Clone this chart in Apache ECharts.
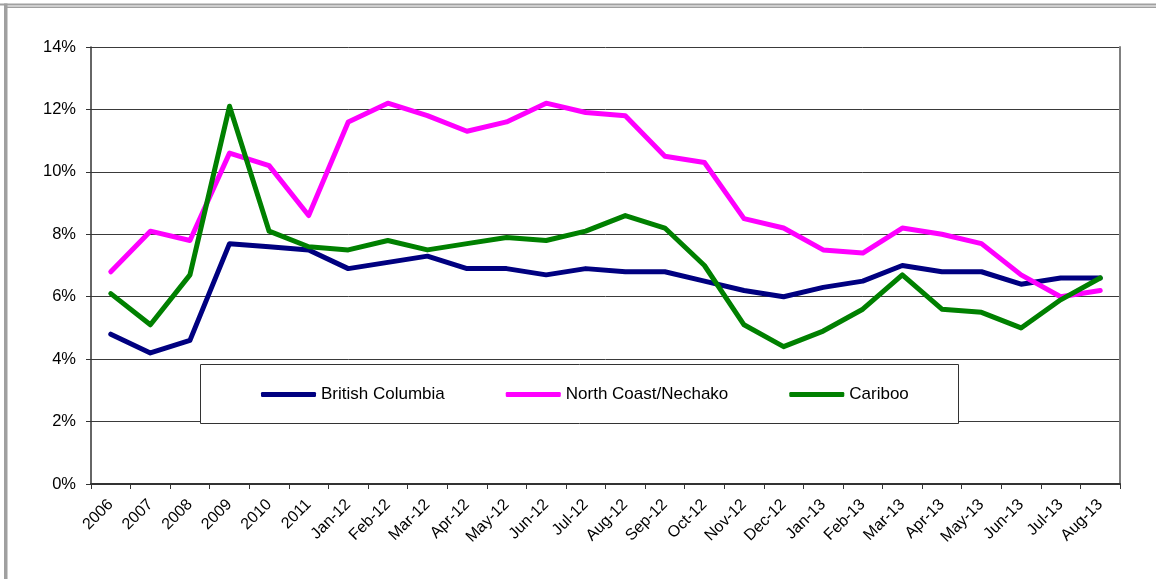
<!DOCTYPE html>
<html>
<head>
<meta charset="utf-8">
<script src="https://cdn.jsdelivr.net/npm/echarts@6/dist/echarts.min.js"></script>
<style>
  html, body { margin: 0; padding: 0; background: #ffffff; }
  #chart { width: 1156px; height: 579px; }
</style>
</head>
<body>
<div id="chart"></div>
<script>
// Unemployment rate (%) by region
const categories = ['2006', '2007', '2008', '2009', '2010', '2011',
  'Jan-12', 'Feb-12', 'Mar-12', 'Apr-12', 'May-12', 'Jun-12', 'Jul-12', 'Aug-12',
  'Sep-12', 'Oct-12', 'Nov-12', 'Dec-12', 'Jan-13', 'Feb-13', 'Mar-13', 'Apr-13',
  'May-13', 'Jun-13', 'Jul-13', 'Aug-13'];

const britishColumbia = [4.8, 4.2, 4.6, 7.7, 7.6, 7.5, 6.9, 7.1, 7.3, 6.9, 6.9, 6.7, 6.9,
  6.8, 6.8, 6.5, 6.2, 6.0, 6.3, 6.5, 7.0, 6.8, 6.8, 6.4, 6.6, 6.6];

const northCoastNechako = [6.8, 8.1, 7.8, 10.6, 10.2, 8.6, 11.6, 12.2, 11.8, 11.3, 11.6, 12.2, 11.9,
  11.8, 10.5, 10.3, 8.5, 8.2, 7.5, 7.4, 8.2, 8.0, 7.7, 6.7, 6.0, 6.2];

const cariboo = [6.1, 5.1, 6.7, 12.1, 8.1, 7.6, 7.5, 7.8, 7.5, 7.7, 7.9, 7.8, 8.1,
  8.6, 8.2, 7.0, 5.1, 4.4, 4.9, 5.6, 6.7, 5.6, 5.5, 5.0, 5.9, 6.6];

const seriesNames = ['British Columbia', 'North Coast/Nechako', 'Cariboo'];
const seriesColors = ['#000080', '#FF00FF', '#008000'];
const seriesData = [britishColumbia, northCoastNechako, cariboo];

const FONT = '"Liberation Sans", Arial, sans-serif';

const chart = echarts.init(document.getElementById('chart'), null, { renderer: 'canvas' });

const option = {
  backgroundColor: '#ffffff',
  animation: false,
  textStyle: { fontFamily: FONT },
  grid: { left: 91, top: 47, right: 36, bottom: 95, containLabel: false },
  xAxis: {
    type: 'category',
    data: categories,
    boundaryGap: true,
    axisLine: { show: true, lineStyle: { color: '#333333', width: 2 } },
    axisTick: { show: true, interval: 0, length: 5, inside: false, lineStyle: { color: '#333333', width: 1 } },
    axisLabel: {
      interval: 0, rotate: 45, margin: 18,
      fontSize: 16, color: '#000000', fontFamily: FONT
    },
    splitLine: { show: false }
  },
  yAxis: [{
    type: 'value',
    min: 0, max: 14, interval: 2,
    axisLine: { show: true, lineStyle: { color: '#333333', width: 1.5 } },
    axisTick: { show: true, length: 5, inside: false, lineStyle: { color: '#333333', width: 1 } },
    axisLabel: { formatter: '{value}%', fontSize: 16.5, color: '#000000', margin: 15, fontFamily: FONT },
    splitLine: { show: true, lineStyle: { color: '#3a3a3a', width: 1 } }
  }, {
    type: 'value',
    position: 'right',
    min: 0, max: 14, interval: 2,
    axisLine: { show: true, lineStyle: { color: '#808080', width: 2 } },
    axisTick: { show: false },
    axisLabel: { show: false },
    splitLine: { show: false }
  }],
  legend: {
    show: true,
    left: 261,
    top: 386,
    padding: 0,
    itemGap: 61,
    itemWidth: 55,
    itemHeight: 5,
    icon: 'roundRect',
    z: 5,
    textStyle: { fontSize: 17, color: '#000000', fontFamily: FONT },
    data: seriesNames
  },
  graphic: [
    // outer frame
    { type: 'rect', z: 0, silent: true, shape: { x: 0, y: 3.5, width: 1156, height: 2 }, style: { fill: '#a0a0a0' } },
    { type: 'rect', z: 0, silent: true, shape: { x: 4, y: 6.5, width: 1152, height: 1.5 }, style: { fill: '#a0a0a0' } },
    { type: 'rect', z: 0, silent: true, shape: { x: 4, y: 3.5, width: 3.5, height: 576 }, style: { fill: '#a0a0a0' } },
    // legend box
    { type: 'rect', z: 1, silent: true, shape: { x: 200.5, y: 364.5, width: 758, height: 59 },
      style: { fill: '#ffffff', stroke: '#333333', lineWidth: 1 } }
  ],
  series: seriesNames.map((name, i) => ({
    name: name,
    type: 'line',
    data: seriesData[i],
    color: seriesColors[i],
    symbol: 'none',
    smooth: false,
    z: 3 + i,
    lineStyle: { color: seriesColors[i], width: 5, cap: 'round', join: 'round' },
    itemStyle: { color: seriesColors[i] }
  }))
};

chart.setOption(option);
</script>
</body>
</html>
